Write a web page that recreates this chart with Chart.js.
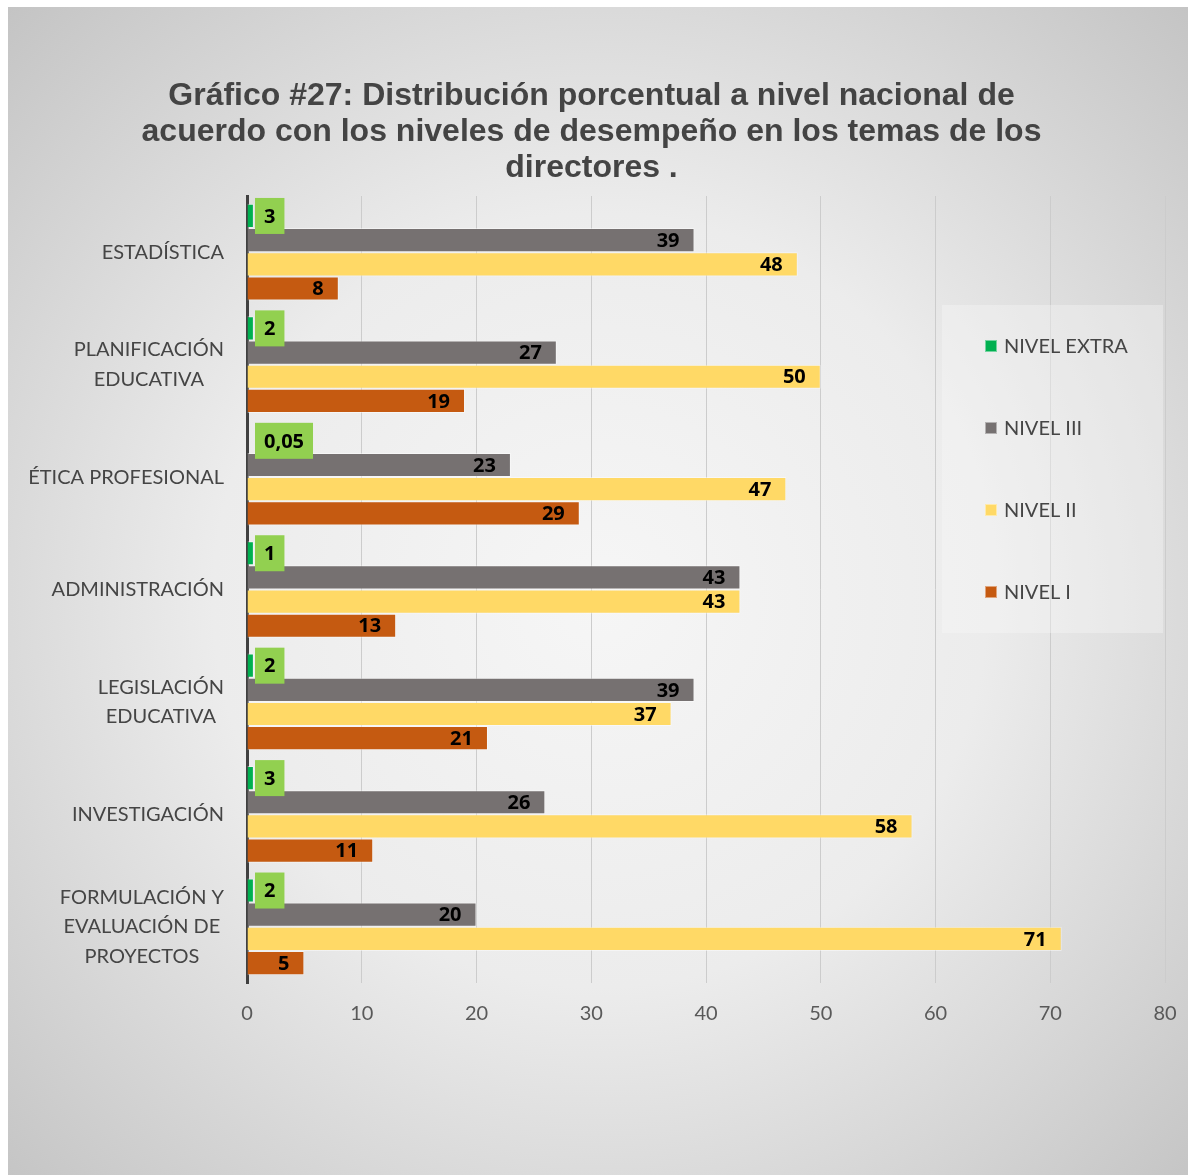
<!DOCTYPE html>
<html>
<head>
<meta charset="utf-8">
<script src="https://cdn.jsdelivr.net/npm/chart.js@4"></script>
<style>
  html, body { margin: 0; padding: 0; background: #fff; }
</style>
</head>
<body>
<canvas id="chart" width="1188" height="1175"></canvas>
<script>
// Categories (multi-line labels as in the original)
const categories = [
    ['ESTADÍSTICA'],
    ['PLANIFICACIÓN', 'EDUCATIVA'],
    ['ÉTICA PROFESIONAL'],
    ['ADMINISTRACIÓN'],
    ['LEGISLACIÓN', 'EDUCATIVA'],
    ['INVESTIGACIÓN'],
    ['FORMULACIÓN Y', 'EVALUACIÓN DE', 'PROYECTOS']
];
const seriesNames = ['NIVEL EXTRA', 'NIVEL III', 'NIVEL II', 'NIVEL I'];
const seriesColors = ['#00B050', '#767171', '#FFD966', '#C55A11'];

// NIVEL EXTRA: label shown in the green box, and the (tiny) bar length drawn
const nivelExtraLabels = ['3', '2', '0,05', '1', '2', '3', '2'];
const nivelExtra = [0.6, 0.6, 0, 0.6, 0.6, 0.6, 0.6];
const nivel3 = [39, 27, 23, 43, 39, 26, 20];
const nivel2 = [48, 50, 47, 43, 37, 58, 71];
const nivel1 = [8, 19, 29, 13, 21, 11, 5];

const xMin = 0, xMax = 80, xStep = 10;

const titleLines = [
    'Gráfico #27: Distribución porcentual a nivel nacional de',
    'acuerdo con los niveles de desempeño en los temas de los',
    'directores .'
];

// background: white page with a grey radial-gradient panel
const backgroundPlugin = {
    id: 'bg',
    beforeDraw(chart) {
        const ctx = chart.ctx;
        ctx.save();
        ctx.fillStyle = '#ffffff';
        ctx.fillRect(0, 0, chart.width, chart.height);
        const g = ctx.createRadialGradient(600, 600, 0, 600, 600, 860);
        g.addColorStop(0, '#f6f6f6');
        g.addColorStop(0.45, '#ececec');
        g.addColorStop(1, '#c2c2c2');
        ctx.fillStyle = g;
        ctx.fillRect(8, 7, chart.width - 8, chart.height - 7);
        ctx.restore();
    }
};

// category labels: block right-aligned, lines centred inside the block
const categoryLabelPlugin = {
    id: 'catLabels',
    afterDraw(chart) {
        const ctx = chart.ctx;
        const yScale = chart.scales.y;
        ctx.save();
        ctx.font = '20px Lato';
        ctx.fillStyle = '#454545';
        ctx.textAlign = 'center';
        ctx.textBaseline = 'middle';
        const rightEdge = 224;
        const lineH = 29.5;
        categories.forEach((lines, i) => {
            const yc = yScale.getPixelForTick(i);
            const w = Math.max(...lines.map(l => ctx.measureText(l).width));
            const cx = rightEdge - w / 2;
            lines.forEach((l, j) => {
                ctx.fillText(l, cx, yc + (j - (lines.length - 1) / 2) * lineH);
            });
        });
        ctx.restore();
    }
};

// value labels at the end of each bar, green boxes for NIVEL EXTRA
const valueLabelPlugin = {
    id: 'valueLabels',
    afterDatasetsDraw(chart) {
        const ctx = chart.ctx;
        const x0 = chart.scales.x.getPixelForValue(0);
        ctx.save();
        ctx.font = 'bold 20px "Open Sans"';
        ctx.textBaseline = 'middle';
        chart.data.datasets.forEach((ds, di) => {
            const meta = chart.getDatasetMeta(di);
            meta.data.forEach((bar, i) => {
                if (di === 0) {
                    const txt = nivelExtraLabels[i];
                    const tw = ctx.measureText(txt).width;
                    const bx = x0 + 8;
                    ctx.fillStyle = '#92D050';
                    ctx.fillRect(bx, bar.y - 18, tw + 18, 36);
                    ctx.fillStyle = '#000';
                    ctx.textAlign = 'left';
                    ctx.fillText(txt, bx + 9, bar.y + 1);
                } else {
                    ctx.fillStyle = '#000';
                    ctx.textAlign = 'right';
                    ctx.fillText(String(ds.data[i]), bar.x - 15, bar.y + 1);
                }
            });
        });
        ctx.restore();
    }
};

// legend box drawn inside the plot area, on the right
const legendPlugin = {
    id: 'boxLegend',
    afterDraw(chart) {
        const ctx = chart.ctx;
        ctx.save();
        ctx.fillStyle = 'rgba(250,250,250,0.35)';
        ctx.fillRect(942, 305, 221, 328);
        ctx.font = '20px Lato';
        ctx.textBaseline = 'middle';
        ctx.textAlign = 'left';
        chart.data.datasets.forEach((ds, i) => {
            const y = 346 + i * 82;
            ctx.fillStyle = ds.backgroundColor;
            ctx.fillRect(985, y - 6, 12, 12);
            ctx.strokeStyle = 'rgba(255,255,255,0.45)';
            ctx.lineWidth = 1;
            ctx.strokeRect(985.5, y - 5.5, 11, 11);
            ctx.fillStyle = '#454545';
            ctx.fillText(ds.label, 1004, y + 1);
        });
        ctx.restore();
    }
};

const barData = [nivelExtra, nivel3, nivel2, nivel1];

const ctx = document.getElementById('chart').getContext('2d');
const chart = new Chart(ctx, {
    type: 'bar',
    data: {
        labels: categories.map(c => c.join(' ')),
        datasets: seriesNames.map((name, i) => ({
            label: name,
            data: barData[i],
            backgroundColor: seriesColors[i],
            borderColor: 'rgba(255,255,255,0.45)',
            borderWidth: 1,
            categoryPercentage: 0.86,
            barPercentage: 1.0
        }))
    },
    options: {
        indexAxis: 'y',
        responsive: false,
        animation: false,
        layout: {
            padding: { top: 78, left: 18, right: 23, bottom: 147 }
        },
        plugins: {
            legend: { display: false },
            tooltip: { enabled: false },
            title: {
                display: true,
                text: titleLines,
                color: '#444444',
                font: { family: '"Liberation Sans", Arial', size: 32, weight: 'bold', lineHeight: 36 / 32 },
                padding: { top: 0, bottom: 10 }
            }
        },
        scales: {
            x: {
                min: xMin,
                max: xMax,
                ticks: {
                    stepSize: xStep,
                    color: '#595959',
                    font: { family: 'Lato', size: 20 },
                    padding: 2
                },
                grid: {
                    color: '#cccccc',
                    drawTicks: true,
                    tickLength: 17,
                    tickColor: 'rgba(0,0,0,0)'
                },
                border: { display: false }
            },
            y: {
                ticks: { display: false },
                grid: { display: false },
                border: { color: '#404040', width: 3 },
                afterFit(scale) { scale.width = 229; }
            }
        }
    },
    plugins: [backgroundPlugin, categoryLabelPlugin, valueLabelPlugin, legendPlugin]
});
</script>
</body>
</html>
